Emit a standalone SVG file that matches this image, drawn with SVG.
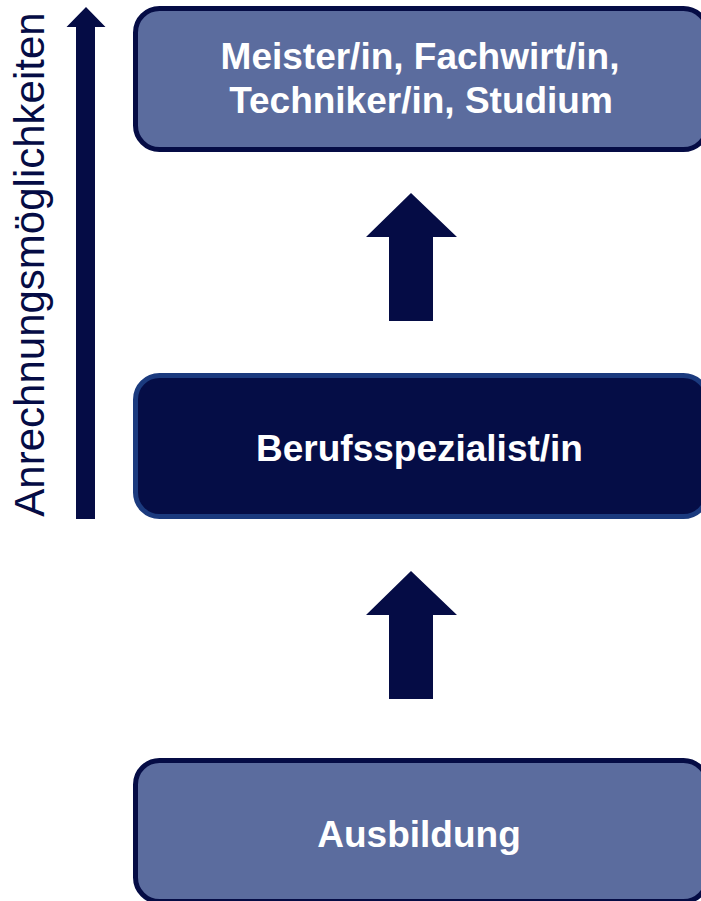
<svg xmlns="http://www.w3.org/2000/svg" width="701" height="901" viewBox="0 0 701 901">
<style>
.box{fill:#5B6C9E;stroke:#050C45;stroke-width:5}
.boxd{fill:#050D46;stroke:#1B3A7E;stroke-width:5}
.lbl{font-family:"Liberation Sans",Arial,sans-serif;font-weight:bold;font-size:37px;fill:#FFFFFF;text-anchor:middle}
.arr{fill:#050C45}
.side{font-family:"Liberation Sans",Arial,sans-serif;font-size:42px;fill:#050C45;text-anchor:middle}
</style>
<rect width="701" height="901" fill="#FFFFFF"/>
<g id="side-axis">
<polygon class="arr" points="86,7 105.5,27 95,27 95,519 76,519 76,27 66.5,27"/>
<text class="side" transform="translate(44,264.5) rotate(-90)">Anrechnungsmöglichkeiten</text>
</g>
<g id="node-meister">
<rect class="box" x="135.5" y="8.5" width="572" height="141" rx="24"/>
<text class="lbl" x="420" y="69">Meister/in, Fachwirt/in,</text>
<text class="lbl" x="421" y="113">Techniker/in, Studium</text>
</g>
<g id="node-berufsspezialist">
<rect class="boxd" x="135.5" y="375.5" width="572" height="141" rx="24"/>
<text class="lbl" x="419.5" y="461">Berufsspezialist/in</text>
</g>
<g id="node-ausbildung">
<rect class="box" x="135.5" y="760.5" width="572" height="141" rx="24"/>
<text class="lbl" x="419" y="847">Ausbildung</text>
</g>
<g id="connectors">
<polygon class="arr" points="411,193 457,237 433,237 433,321 389,321 389,237 366,237"/>
<polygon class="arr" points="411,571 457,615 433,615 433,699 389,699 389,615 366,615"/>
</g>
</svg>
